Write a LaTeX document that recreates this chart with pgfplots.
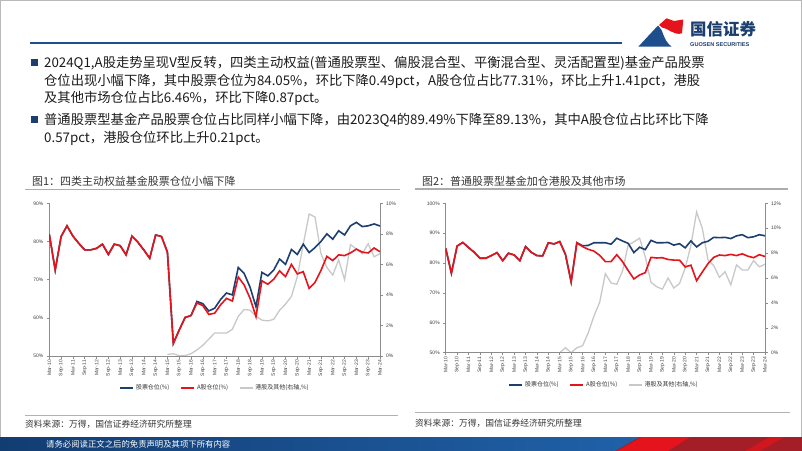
\documentclass[border=0pt]{standalone}
\usepackage{pgfplots}
\pgfplotsset{compat=1.18}
\usepackage{pgfplotstable}
\usepackage{fontspec}
\setmainfont{Noto Sans CJK SC}
\newfontfamily\arial{Liberation Sans}
\definecolor{navy}{HTML}{1C3F6E}
\definecolor{cred}{HTML}{E5131B}
\definecolor{cgray}{HTML}{C8C8C8}
\definecolor{axgray}{HTML}{8C8C8C}
\definecolor{txt}{HTML}{1A1A1A}
\definecolor{hdrblue}{HTML}{1F4E8C}
\definecolor{darkred}{HTML}{A31E26}
\definecolor{barblue}{HTML}{123D73}
\definecolor{barblue2}{HTML}{2061A8}

\pgfplotstableread{
i S A H
0 81.9 81.9 nan
1 72.5 72.5 nan
2 81.3 81.3 nan
3 84.1 84.1 nan
4 81.4 81.4 nan
5 79.5 79.5 nan
6 77.8 77.8 nan
7 77.8 77.8 nan
8 78.2 78.2 nan
9 79.3 79.3 nan
10 76.6 76.6 nan
11 79.3 79.3 nan
12 78.9 78.9 nan
13 76.5 76.5 nan
14 81.4 81.4 nan
15 79.8 79.8 nan
16 77.8 77.8 nan
17 75.6 75.6 nan
18 81.7 81.7 nan
19 81.3 81.3 nan
20 77.2 77.2 0.10
21 53.3 53.3 0.15
22 56.8 56.8 0.02
23 60.1 60.1 0.03
24 60.6 60.6 0.15
25 64.3 63.9 0.40
26 63.7 63.2 0.70
27 61.8 60.9 1.10
28 62.5 61.2 1.50
29 64.8 63.4 1.50
30 66.5 65.1 1.50
31 66.0 64.4 1.75
32 73.2 70.7 2.60
33 71.6 68.6 3.05
34 68.0 65.1 3.00
35 62.9 60.3 2.60
36 71.9 69.7 2.35
37 71.0 68.8 2.30
38 72.5 70.1 2.40
39 75.4 72.3 3.00
40 74.0 70.8 3.40
41 77.9 74.0 3.90
42 76.6 71.5 5.20
43 79.3 72.1 7.30
44 77.1 67.7 9.30
45 78.4 69.3 9.10
46 80.0 72.4 6.70
47 82.0 76.1 5.80
48 80.6 75.0 5.30
49 82.8 76.5 6.30
50 81.7 76.3 5.00
51 84.1 77.0 7.30
52 85.0 78.0 7.00
53 83.9 77.2 6.70
54 84.1 77.0 7.35
55 84.6 78.3 6.50
56 84.05 77.31 6.70
}\tabA

\pgfplotstableread{
i S A H
0 84.9 84.9 nan
1 76.6 76.6 nan
2 85.7 85.7 nan
3 86.9 86.9 nan
4 85.2 85.2 nan
5 83.6 83.6 nan
6 81.6 81.6 nan
7 81.6 81.6 nan
8 82.5 82.5 nan
9 83.5 83.5 nan
10 80.8 80.8 nan
11 83.3 83.3 nan
12 82.7 82.7 nan
13 80.8 80.8 nan
14 85.5 85.5 nan
15 83.6 83.6 nan
16 82.5 82.5 nan
17 82.4 82.4 nan
18 86.8 86.8 nan
19 86.4 86.4 nan
20 87.2 87.2 0.00
21 82.9 82.9 0.40
22 73.7 73.7 0.00
23 86.8 86.8 0.40
24 85.8 85.5 0.56
25 85.9 84.6 1.60
26 86.8 84.0 2.95
27 86.8 82.6 4.05
28 86.8 80.5 6.35
29 86.3 80.5 5.60
30 88.3 82.8 5.50
31 87.4 80.5 6.55
32 86.6 77.5 8.65
33 83.5 74.7 8.90
34 85.3 76.0 9.20
35 84.5 76.8 7.70
36 87.6 81.9 5.65
37 86.8 81.7 5.30
38 86.8 81.8 5.10
39 86.9 81.2 6.00
40 86.0 81.0 5.20
41 86.5 81.0 5.55
42 85.1 78.7 6.80
43 87.4 79.3 8.60
44 85.4 74.1 11.30
45 86.8 77.0 10.00
46 87.3 79.8 7.45
47 88.6 81.9 7.00
48 88.5 82.7 6.05
49 88.6 82.5 6.50
50 88.2 82.9 5.45
51 89.1 82.5 7.05
52 89.5 83.1 6.65
53 88.5 82.3 6.65
54 88.8 81.8 7.40
55 89.49 82.8 6.90
56 89.13 82.2 7.10
}\tabB

\pgfplotsset{
  base/.style={scale only axis, xmin=0, xmax=56, no markers,
    unbounded coords=jump,
    axis line style={axgray, line width=0.6bp},
    tick style={axgray, line width=0.5bp},
    tick align=outside, major tick length=2.5bp,
    tick label style={font=\arial\fontsize{5}{6}\selectfont, text=black!75},
    /pgf/number format/assume math mode=true},
  xlab/.style={axis x line*=bottom, xtick={0,2,...,56},
    xticklabels={Mar-10,Sep-10,Mar-11,Sep-11,Mar-12,Sep-12,Mar-13,Sep-13,Mar-14,Sep-14,Mar-15,Sep-15,Mar-16,Sep-16,Mar-17,Sep-17,Mar-18,Sep-18,Mar-19,Sep-19,Mar-20,Sep-20,Mar-21,Sep-21,Mar-22,Sep-22,Mar-23,Sep-23,Mar-24},
    x tick label style={rotate=90, anchor=east, inner sep=1.5bp}},
  leg/.style={legend style={draw=none, fill=none, anchor=center, legend columns=3,
      font=\fontsize{6}{7}\selectfont, text=black!80,
      /tikz/every even column/.append style={column sep=9bp}},
    legend image code/.code={\draw[##1] (0bp,0bp) -- (13bp,0bp);}}
}

\begin{document}
\begin{tikzpicture}[x=1bp,y=-1bp]
\useasboundingbox (0,0) rectangle (802,451);
\draw[gray!55, line width=1bp] (0.5,0.5) rectangle (801.5,450.5);

% header
\draw[hdrblue, line width=2bp] (30,43.5) -- (622,43.5);
\fill[hdrblue] (638.3,46.7) -- (658,25.5) .. controls (664,30) and (662,39) .. (671.5,46.7) -- cycle;
\fill[cred] (659,25) -- (666.5,18.3) -- (674,21) -- (683.3,19.5) -- (682,33.3) .. controls (674,36) and (668,28) .. (662,27.5) -- cycle;
\node[anchor=west, inner sep=0, text=navy] at (690,29.5) {\fontsize{16.5}{18}\selectfont\bfseries 国信证券};
\node[anchor=west, inner sep=0, text=navy] at (690,44.8) {\arial\bfseries\fontsize{5.6}{6}\selectfont GUOSEN SECURITIES};

% bullets
\fill[navy] (31,59.5) rectangle (38,66.5);
\fill[navy] (31,116.5) rectangle (38,123.5);
\begin{scope}[every node/.style={anchor=west, inner sep=0, text=txt, font=\fontsize{13.35}{16}\selectfont}]
\node at (44,63) {2024Q1,A股走势呈现V型反转，四类主动权益(普通股票型、偏股混合型、平衡混合型、灵活配置型)基金产品股票};
\node at (44,81) {仓位出现小幅下降，其中股票仓位为84.05\%，环比下降0.49pct，A股仓位占比77.31\%，环比上升1.41pct，港股};
\node at (44,98.5) {及其他市场仓位占比6.46\%，环比下降0.87pct。};
\node at (44,120) {普通股票型基金产品股票仓位占比同样小幅下降，由2023Q4的89.49\%下降至89.13\%，其中A股仓位占比环比下降};
\node at (44,138) {0.57pct，港股仓位环比上升0.21pct。};
\end{scope}

% chart titles
\node[anchor=west, inner sep=0, text=black!80] at (32,181) {\fontsize{11}{13}\selectfont 图1：四类主动权益基金股票仓位小幅下降};
\node[anchor=west, inner sep=0, text=black!80] at (422,181) {\fontsize{11}{13}\selectfont 图2：普通股票型基金加仓港股及其他市场};
\draw[gray!65, line width=1.2bp] (25,189.3) -- (400,189.3);
\draw[gray!65, line width=1.2bp] (415,189) -- (788,189);

% sources
\draw[gray!60, line width=1bp] (25,415) -- (398,415);
\draw[gray!60, line width=1bp] (415,412.5) -- (790,412.5);
\node[anchor=west, inner sep=0, text=black!80] at (25,424) {\fontsize{8.8}{10}\selectfont 资料来源：万得，国信证券经济研究所整理};
\node[anchor=west, inner sep=0, text=black!80] at (415,423) {\fontsize{8.8}{10}\selectfont 资料来源：万得，国信证券经济研究所整理};

% bottom bar
\shade[left color=barblue, right color=barblue2] (0,437) rectangle (640,451);
\fill[darkred] (640,437) -- (802,437) -- (802,451) -- (615,451) -- cycle;
\fill[cred] (617,451) -- (642,437) -- (690,437) -- (668,451) -- cycle;
\fill[cred!70!darkred] (745,451) -- (770,437) -- (785,437) -- (760,451) -- cycle;
\node[anchor=west, inner sep=0, text=white] at (46,444) {\fontsize{8.4}{10}\selectfont 请务必阅读正文之后的免责声明及其项下所有内容};

% ---------- chart 1 ----------
\begin{axis}[base, at={(49.3bp,-356bp)}, anchor=south west, width=330.7bp, height=152.7bp,
  axis x line=none, axis y line*=right, ymin=0, ymax=10, ytick={0,2,...,10},
  yticklabels={0\%,2\%,4\%,6\%,8\%,10\%}]
\addplot[cgray, line width=1.3bp] table[x=i,y=H] {\tabA};
\end{axis}
\begin{axis}[base, xlab, leg, at={(49.3bp,-356bp)}, anchor=south west, width=330.7bp, height=152.7bp,
  axis y line*=left, ymin=50, ymax=90, ytick={50,60,...,90},
  yticklabels={50\%,60\%,70\%,80\%,90\%},
  legend style={at={(0.501,-0.21)}}]
\addplot[navy, line width=1.6bp] table[x=i,y=S] {\tabA};
\addplot[cred, line width=1.6bp] table[x=i,y=A] {\tabA};
\addlegendimage{cgray, line width=1.3bp}
\legend{股票仓位(\%), A股仓位(\%), {港股及其他(右轴,\%)}}
\end{axis}

% ---------- chart 2 ----------
\begin{axis}[base, at={(445.7bp,-352.7bp)}, anchor=south west, width=319.3bp, height=149.4bp,
  axis x line=none, axis y line*=right, ymin=0, ymax=12, ytick={0,2,...,12},
  yticklabels={0\%,2\%,4\%,6\%,8\%,10\%,12\%}]
\addplot[cgray, line width=1.3bp] table[x=i,y=H] {\tabB};
\end{axis}
\begin{axis}[base, xlab, leg, at={(445.7bp,-352.7bp)}, anchor=south west, width=319.3bp, height=149.4bp,
  axis y line*=left, ymin=50, ymax=100, ytick={50,60,...,100},
  yticklabels={50\%,60\%,70\%,80\%,90\%,100\%},
  legend style={at={(0.496,-0.216)}}]
\addplot[navy, line width=1.6bp] table[x=i,y=S] {\tabB};
\addplot[cred, line width=1.6bp] table[x=i,y=A] {\tabB};
\addlegendimage{cgray, line width=1.3bp}
\legend{股票仓位(\%), A股仓位(\%), {港股及其他(右轴,\%)}}
\end{axis}
\end{tikzpicture}
\end{document}
